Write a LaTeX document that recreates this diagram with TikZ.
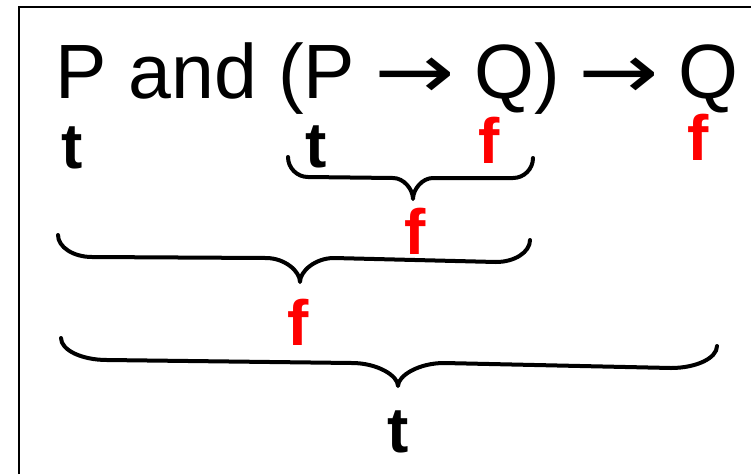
\documentclass[tikz,border=0pt]{standalone}
\usepackage{fontspec}
\setmainfont{Liberation Sans}
\newfontfamily\arrowfont{DejaVu Sans}
\definecolor{falsered}{RGB}{255,0,0}

\tikzset{
  formula/.style={font=\fontsize{77}{80}\selectfont, inner sep=0pt, anchor=base west},
  val/.style={font=\fontsize{64}{66}\selectfont\bfseries, inner sep=0pt, anchor=base},
  tval/.style={val, text=black},
  fval/.style={val, text=falsered},
  bracepath/.style={line width=4pt, line cap=round, line join=round},
  framepath/.style={line width=2.5pt}
}

% implication arrow, set in a box as wide as the symbol-font arrow
\newcommand{\imp}{\makebox[0.987em]{\arrowfont\scalebox{1.25}[1]{→}}}

% under-brace: #1 left x, #2 left rail y, #3 cusp x, #4 cusp y,
% #5 right x, #6 right rail y, #7 end-curve width, #8 end height, #9 cusp depth
\newcommand{\valbrace}[9]{%
  \draw[bracepath] (#1,#2-#8) .. controls (#1,#2-0.45*#8) and (#1+0.45*#7,#2) .. (#1+#7,#2)
    -- (#3-#7,#4-#9) .. controls (#3-0.45*#7,#4-#9) and (#3,#4-0.45*#9) .. (#3,#4)
    .. controls (#3,#4-0.45*#9) and (#3+0.45*#7,#4-#9) .. (#3+#7,#4-#9)
    -- (#5-#7,#6) .. controls (#5-0.45*#7,#6) and (#5,#6-0.45*#8) .. (#5,#6-#8);}

\begin{document}
\begin{tikzpicture}[x=1pt, y=-1pt]
  \useasboundingbox (0,0) rectangle (751,474);

  % frame corner
  \coordinate (fbot) at (19,474);
  \coordinate (fright) at (751,7);
  \draw[framepath] (fbot) |- (fright);

  % the formula
  \node[formula] (expr) at (55.5,98) {P and (P \imp{} Q) \imp{} Q};

  % truth values of the atoms
  \node[tval] (vp1) at (72,168) {t};
  \node[tval] (vp2) at (316,167) {t};
  \node[fval] (vq1) at (489.5,163) {f};
  \node[fval] (vq2) at (698.5,160) {f};

  % P -> Q
  \valbrace{288}{177}{413}{199}{533}{178}{20}{20}{21}
  \node[fval] (vimp) at (415,254) {f};

  % P and (P -> Q)
  \valbrace{58}{257}{300}{282}{530}{262}{34}{22}{24}
  \node[fval] (vand) at (298.5,345) {f};

  % whole formula
  \valbrace{61}{360}{398}{386}{717}{368}{46}{22}{23}
  \node[tval] (vall) at (398,452) {t};
\end{tikzpicture}
\end{document}
